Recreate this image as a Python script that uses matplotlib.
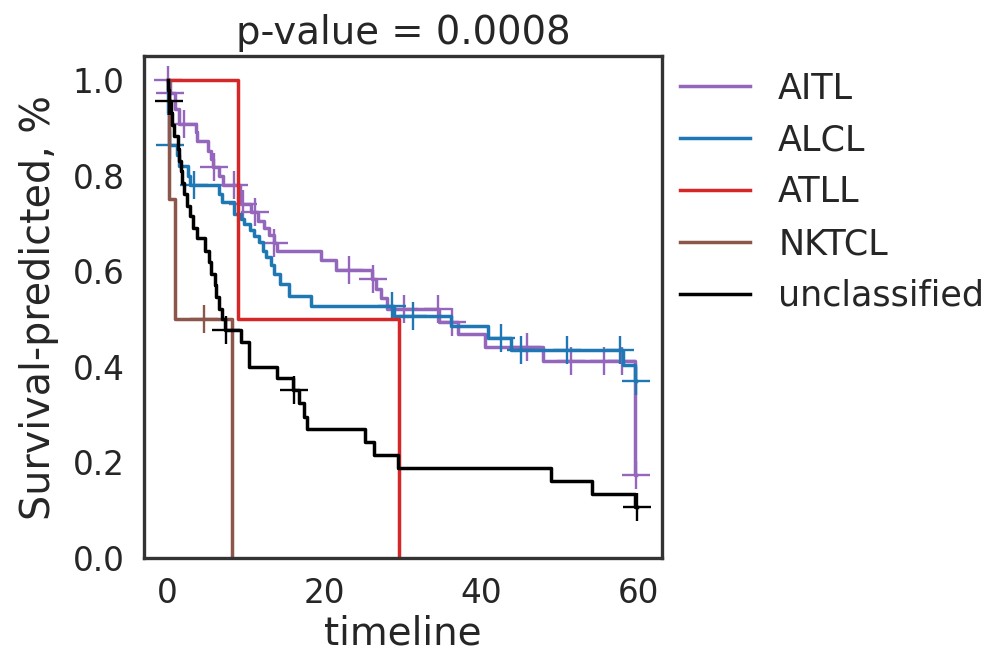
import numpy as np
import matplotlib
matplotlib.use("Agg")
import matplotlib.pyplot as plt

# Kaplan-Meier step curves per subtype: event times and survival after each step
groups = ["AITL", "ALCL", "ATLL", "NKTCL", "unclassified"]
colors = ["#9467bd", "#1f77b4", "#d62728", "#8c564b", "#000000"]

aitl_t = [0, 0.3, 1.0, 1.5, 3.6, 3.8, 5.1, 5.5, 5.8, 6.6, 7.1, 9.2, 9.4, 10.6,
          11.5, 12.3, 12.9, 13.5, 14.0, 19.5, 21.4, 26.0, 26.6, 27.2, 28.0,
          34.6, 37.0, 40.5, 47.8, 59.5]
aitl_s = [1.0, 0.972, 0.94, 0.907, 0.89, 0.873, 0.852, 0.835, 0.817, 0.80,
          0.78, 0.757, 0.74, 0.723, 0.705, 0.69, 0.675, 0.658, 0.643, 0.624,
          0.603, 0.584, 0.562, 0.543, 0.52, 0.494, 0.469, 0.441, 0.413, 0.173]
aitl_cens = [0, 0.3, 2.1, 5.95, 8.5, 9.6, 11.2, 13.6, 23.1, 26.2, 30.1, 34.4,
             36.2, 45.8, 51.4, 55.6, 57.9, 59.7]

alcl_t = [0, 0.1, 0.2, 1.2, 1.5, 2.6, 2.9, 6.6, 7.0, 8.5, 9.3, 9.8, 10.5, 11.0,
          11.7, 12.1, 12.6, 13.2, 13.6, 14.3, 15.5, 18.3, 28.8, 36.1, 40.8,
          43.7, 58.0, 59.5]
alcl_s = [1.0, 0.93, 0.864, 0.842, 0.82, 0.80, 0.78, 0.761, 0.744, 0.72, 0.71,
          0.699, 0.686, 0.674, 0.66, 0.643, 0.629, 0.612, 0.595, 0.574, 0.549,
          0.528, 0.507, 0.485, 0.461, 0.436, 0.403, 0.37]
alcl_cens = [0.3, 3.4, 28.6, 31.3, 42.5, 45.0, 50.9, 57.7, 59.7]

atll_t = [0, 9.0, 29.5]
atll_s = [1.0, 0.5, 0.0]
atll_cens = []

nktcl_t = [0, 0.2, 0.9, 8.2]
nktcl_s = [1.0, 0.75, 0.5, 0.0]
nktcl_cens = [4.6]

uncl_t = [0, 0.1, 0.15, 0.4, 0.6, 0.8, 1.3, 1.5, 1.7, 1.9, 2.1, 2.5, 2.9, 3.3,
          3.8, 4.8, 5.3, 5.6, 6.0, 6.2, 6.6, 7.0, 7.3, 9.3, 10.4, 14.0, 16.0,
          16.8, 17.4, 17.8, 25.1, 26.3, 29.4, 48.8, 54.1, 59.6]
uncl_s = [1.0, 0.978, 0.955, 0.93, 0.905, 0.883, 0.856, 0.83, 0.81, 0.785,
          0.762, 0.737, 0.716, 0.69, 0.67, 0.643, 0.62, 0.595, 0.572, 0.545,
          0.52, 0.50, 0.476, 0.452, 0.40, 0.376, 0.352, 0.324, 0.295, 0.269,
          0.243, 0.215, 0.189, 0.161, 0.134, 0.107]
uncl_cens = [0.2, 7.4, 16.1, 59.8]

curves = [
    (aitl_t, aitl_s, aitl_cens),
    (alcl_t, alcl_s, alcl_cens),
    (atll_t, atll_s, atll_cens),
    (nktcl_t, nktcl_s, nktcl_cens),
    (uncl_t, uncl_s, uncl_cens),
]

title = "p-value = 0.0008"
xlabel = "timeline"
ylabel = "Survival-predicted, %"
xticks = [0, 20, 40, 60]
yticks = [0.0, 0.2, 0.4, 0.6, 0.8, 1.0]

text_color = "#262626"
plt.rcParams["font.family"] = ["DejaVu Sans"]
plt.rcParams["text.color"] = text_color
plt.rcParams["axes.labelcolor"] = text_color
plt.rcParams["xtick.color"] = text_color
plt.rcParams["ytick.color"] = text_color

fig = plt.figure(figsize=(9.94, 6.58), dpi=100)
ax = fig.add_axes([144 / 994, 1 - 558 / 658, 518 / 994, 502 / 658])


def survival_at(times, surv, t):
    idx = np.searchsorted(np.asarray(times), t, side="right") - 1
    return np.asarray(surv)[idx]


for name, color, (t, s, cens) in zip(groups, colors, curves):
    t = list(t)
    s = list(s)
    t_end = max([t[-1]] + list(cens))
    if t_end > t[-1]:
        t.append(t_end)
        s.append(s[-1])
    ax.step(t, s, where="post", color=color, lw=2.5, label=name)
    if len(cens):
        cy = [survival_at(t, s, c) for c in cens]
        ax.plot(cens, cy, linestyle="none", marker="+", ms=20, mew=1.7,
                color=color, clip_on=False)

ax.set_xlim(-3, 63)
ax.set_ylim(0, 1.05)
ax.set_xticks(xticks)
ax.set_yticks(yticks)
ax.set_yticklabels([f"{v:.1f}" for v in yticks])
ax.tick_params(length=0, pad=14, labelsize=23.5)
for sp in ax.spines.values():
    sp.set_color("#333333")
    sp.set_linewidth(2.4)

ax.set_title(title, fontsize=27.8, pad=9)
ax.set_xlabel(xlabel, fontsize=28, labelpad=3)
ax.set_ylabel(ylabel, fontsize=28.5, labelpad=10)

ax.legend(loc="upper left", bbox_to_anchor=(1.008, 0.997), borderaxespad=0,
          frameon=False, fontsize=25.2, handlelength=2.0, handletextpad=0.8,
          labelspacing=0.51)

fig.savefig("out.png", dpi=100)
